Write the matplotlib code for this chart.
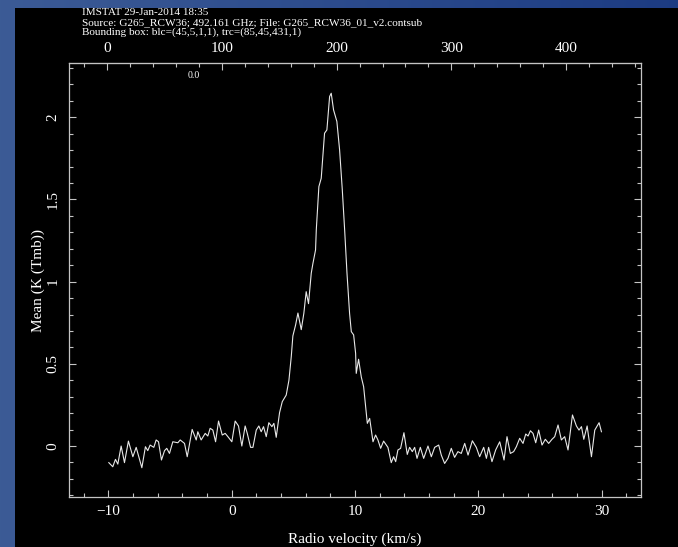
import numpy as np
import matplotlib
matplotlib.use("Agg")
import matplotlib.pyplot as plt
from matplotlib.ticker import MultipleLocator, FixedLocator, FormatStrFormatter

# ---- spectrum: mean brightness (K, Tmb) versus radio velocity (km/s) ----
velocity = [
    -9.97, -9.65, -9.43, -9.24, -8.97, -8.70, -8.38, -8.02, -7.75, -7.29,
    -7.00, -6.81, -6.62, -6.32, -6.13, -5.94, -5.70, -5.45, -5.27, -5.05,
    -4.78, -4.37, -4.18, -3.83, -3.61, -3.21, -2.88, -2.75, -2.48, -2.15,
    -1.94, -1.75, -1.53, -1.31, -1.07, -0.77, -0.53, -0.31, 0.01, 0.28,
    0.55, 0.82, 1.09, 1.26, 1.53, 1.72, 1.99, 2.20, 2.39, 2.58,
    2.80, 3.01, 3.26, 3.42, 3.61, 3.88, 4.10, 4.42, 4.64, 4.83,
    4.96, 5.18, 5.37, 5.64, 5.85, 6.04, 6.23, 6.45, 6.59, 6.80,
    6.86, 7.07, 7.26, 7.53, 7.72, 7.94, 8.07, 8.26, 8.53, 8.75,
    8.97, 9.16, 9.35, 9.56, 9.70, 9.89, 10.05, 10.10, 10.29, 10.51,
    10.70, 11.00, 11.19, 11.46, 11.67, 11.86, 12.08, 12.32, 12.67, 12.94,
    13.13, 13.30, 13.48, 13.70, 13.97, 14.24, 14.43, 14.65, 14.84, 15.03,
    15.30, 15.57, 15.92, 16.19, 16.46, 16.79, 17.00, 17.27, 17.54, 17.81,
    18.08, 18.35, 18.62, 18.90, 19.17, 19.52, 19.84, 20.11, 20.44, 20.66,
    20.84, 21.11, 21.41, 21.74, 22.09, 22.33, 22.60, 22.87, 23.09, 23.36,
    23.63, 23.85, 24.04, 24.23, 24.44, 24.66, 24.90, 25.17, 25.44, 25.71,
    25.98, 26.20, 26.47, 26.74, 27.01, 27.28, 27.64, 27.96, 28.17, 28.37,
    28.56, 28.83, 29.18, 29.45, 29.80, 29.99,
]
mean_tmb = [
    -0.101, -0.126, -0.081, -0.110, 0.000, -0.101, 0.030, -0.065, -0.008, -0.132,
    -0.004, -0.028, 0.006, -0.008, 0.037, 0.026, -0.085, -0.028, -0.014, -0.045,
    0.026, 0.020, 0.037, 0.016, -0.065, 0.101, 0.037, 0.087, 0.037, 0.077,
    0.061, 0.108, 0.097, 0.026, 0.152, 0.067, 0.077, 0.057, 0.026, 0.152,
    0.122, 0.000, 0.122, 0.077, -0.008, -0.008, 0.097, 0.122, 0.087, 0.118,
    0.057, 0.142, 0.118, 0.138, 0.053, 0.203, 0.270, 0.310, 0.400, 0.544,
    0.670, 0.736, 0.809, 0.708, 0.807, 0.939, 0.866, 1.051, 1.112, 1.193,
    1.315, 1.578, 1.629, 1.903, 1.923, 2.126, 2.146, 2.045, 1.974, 1.802,
    1.558, 1.315, 1.051, 0.807, 0.696, 0.676, 0.564, 0.442, 0.528, 0.420,
    0.361, 0.138, 0.168, 0.026, 0.067, 0.037, -0.014, 0.030, -0.008, -0.101,
    -0.065, -0.095, -0.024, -0.014, 0.081, -0.051, -0.008, -0.034, -0.008, -0.075,
    -0.008, -0.075, 0.000, -0.065, -0.008, 0.006, -0.055, -0.106, -0.075, -0.014,
    -0.069, -0.034, -0.045, 0.016, -0.055, 0.032, -0.008, -0.065, -0.008, -0.075,
    -0.008, -0.095, -0.024, 0.026, -0.085, 0.057, -0.045, -0.034, -0.004, 0.047,
    0.016, 0.073, 0.061, 0.093, 0.077, 0.020, 0.097, 0.006, 0.041, 0.016,
    0.041, 0.057, 0.128, 0.037, 0.057, -0.024, 0.189, 0.122, 0.097, 0.118,
    0.041, 0.122, -0.065, 0.097, 0.142, 0.087,
]

# channel axis: 430 channel steps span -10 .. 30 km/s
chan_width = 40.0 / 430.0
chan0_vel = -10.0 - chan_width
chan_major = [0, 100, 200, 300, 400]
chan_minor = list(range(-60, 480, 20))

header_lines = [
    "IMSTAT 29-Jan-2014 18:35",
    "Source: G265_RCW36; 492.161 GHz; File: G265_RCW36_01_v2.contsub",
    "Bounding box: blc=(45,5,1,1), trc=(85,45,431,1)",
]

W, H = 678, 547
fig = plt.figure(figsize=(W / 100, H / 100), dpi=100)
fig.patch.set_facecolor("black")

# window frame: blue gradient border on the left and top, black panel inside
bg = fig.add_axes([0, 0, 1, 1], zorder=-10)
bg.set_axis_off()
xx = np.linspace(0, 1, W)[None, :]
c_left = np.array([0.235, 0.357, 0.588])
c_right = np.array([0.090, 0.212, 0.500])
t = np.clip(xx * 0.85, 0, 1)[..., None]
img = c_left * (1 - t) + c_right * t
img = np.broadcast_to(img, (H, W, 3)).copy()
img[8:, 15:, :] = 0.0
bg.imshow(img, aspect="auto", extent=(0, W, H, 0), interpolation="nearest")
bg.set_xlim(0, W)
bg.set_ylim(H, 0)

serif = ["Liberation Serif", "DejaVu Serif"]
fg = "#ffffff"
axcol = "#c4c4c4"

ax = fig.add_axes([69 / W, 1 - 497 / H, (641 - 69) / W, (497 - 63) / H])
ax.set_facecolor("black")
ax.plot(velocity, mean_tmb, color="#e8e8e8", lw=0.8)

ax.set_xlim(-13.2, 33.2)
ax.set_ylim(-0.31, 2.33)

for sp in ax.spines.values():
    sp.set_color(axcol)
    sp.set_linewidth(0.9)

ax.xaxis.set_major_locator(MultipleLocator(10))
ax.xaxis.set_minor_locator(MultipleLocator(2))
ax.yaxis.set_major_locator(MultipleLocator(0.5))
ax.yaxis.set_minor_locator(MultipleLocator(0.1))
ax.yaxis.set_major_formatter(FormatStrFormatter("%g"))
ax.tick_params(which="both", direction="in", colors=axcol, width=0.8,
               top=False, right=True, labelcolor=fg, labelsize=11)
ax.tick_params(which="major", length=5)
ax.tick_params(which="minor", length=3)
ax.tick_params(axis="x", pad=6)
ax.tick_params(axis="y", pad=7)
for lab in ax.get_xticklabels() + ax.get_yticklabels():
    lab.set_family(serif)
for lab in ax.get_yticklabels():
    lab.set_rotation(90)
    lab.set_va("center")

# channel number along the top edge
sec = ax.secondary_xaxis(
    "top",
    functions=(lambda v: (v - chan0_vel) / chan_width,
               lambda c: chan0_vel + c * chan_width),
)
sec.xaxis.set_major_locator(FixedLocator(chan_major))
sec.xaxis.set_minor_locator(FixedLocator(chan_minor))
sec.tick_params(which="both", direction="in", colors=axcol, width=0.8,
                labelcolor=fg, labelsize=11, pad=6)
sec.tick_params(which="major", length=5)
sec.tick_params(which="minor", length=3)
sec.spines["top"].set_color(axcol)
for lab in sec.get_xticklabels():
    lab.set_family(serif)

ax.set_xlabel("Radio velocity (km/s)", color=fg, fontsize=11,
              family=serif, labelpad=10)
ax.set_ylabel("Mean (K (Tmb))", color=fg, fontsize=11,
              family=serif, labelpad=1)

ax.text(194 / W, 1 - 76 / H, "0.0", transform=fig.transFigure,
        color=fg, fontsize=7, family=serif, ha="center", va="center")

for i, line in enumerate(header_lines):
    fig.text(82 / W, 1 - (12.7 + 9.7 * i) / H, line, color=fg,
             fontsize=8.1, family=serif, ha="left", va="center")

fig.savefig("out.png", dpi=100, facecolor=fig.get_facecolor())
